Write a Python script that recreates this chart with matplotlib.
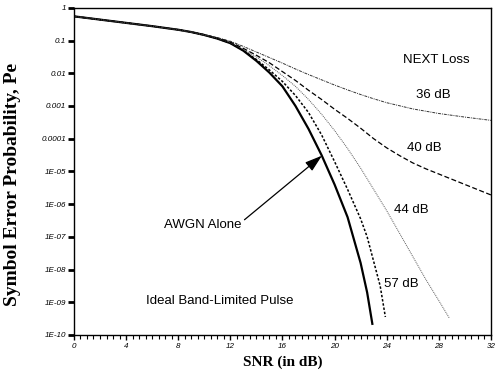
import numpy as np
import matplotlib
matplotlib.use("Agg")
import matplotlib.pyplot as plt
from matplotlib.ticker import MultipleLocator, LogLocator, NullFormatter

# SNR points (dB) and log10(Pe), per curve
awgn_snr = [0, 2, 4, 6, 8, 9, 10, 11, 12, 13, 14, 15, 16, 17, 18, 19, 20, 21, 22, 22.5, 22.9]
awgn_log = [-0.26, -0.36, -0.46, -0.56, -0.67, -0.74, -0.83, -0.94, -1.08, -1.31,
            -1.62, -1.98, -2.4, -3.0, -3.7, -4.5, -5.4, -6.4, -7.8, -8.7, -9.66]

n57_snr = [0, 2, 4, 6, 8, 9, 10, 11, 12, 13, 14, 15, 16, 17, 18, 19, 20, 21, 22, 22.5, 23,
           23.5, 23.9]
n57_log = [-0.26, -0.36, -0.46, -0.56, -0.67, -0.74, -0.83, -0.94, -1.08, -1.3,
           -1.58, -1.9, -2.25, -2.68, -3.2, -3.88, -4.7, -5.55, -6.45, -7.0, -7.75,
           -8.5, -9.45]

n44_snr = [0, 2, 4, 6, 8, 9, 10, 11, 12, 13, 14, 15, 16, 17, 18, 19, 20, 21, 22, 23, 24,
           25, 26, 27, 28, 28.8]
n44_log = [-0.26, -0.36, -0.46, -0.56, -0.67, -0.74, -0.83, -0.93, -1.06, -1.27,
           -1.5, -1.77, -2.07, -2.4, -2.8, -3.25, -3.75, -4.3, -4.9, -5.55, -6.2,
           -6.9, -7.6, -8.3, -8.95, -9.48]

n40_snr = [0, 2, 4, 6, 8, 9, 10, 11, 12, 13, 14, 15, 16, 17, 18, 19, 20, 21, 22, 23, 24,
           25, 26, 27, 28, 30, 32]
n40_log = [-0.26, -0.36, -0.46, -0.56, -0.67, -0.74, -0.82, -0.92, -1.04, -1.24,
           -1.45, -1.68, -1.95, -2.22, -2.52, -2.8, -3.1, -3.38, -3.68, -4.0, -4.28,
           -4.52, -4.74, -4.92, -5.08, -5.4, -5.72]

n36_snr = [0, 2, 4, 6, 8, 9, 10, 11, 12, 13, 14, 15, 16, 17, 18, 19, 20, 21, 22, 23, 24,
           26, 28, 30, 32]
n36_log = [-0.26, -0.36, -0.46, -0.56, -0.67, -0.74, -0.82, -0.91, -1.02, -1.18,
           -1.35, -1.52, -1.69, -1.87, -2.04, -2.2, -2.36, -2.51, -2.65, -2.78, -2.9,
           -3.09, -3.23, -3.34, -3.44]

y_ticks = [1, 0.1, 0.01, 0.001, 0.0001, 1e-5, 1e-6, 1e-7, 1e-8, 1e-9, 1e-10]
y_labels = ["1", "0.1", "0.01", "0.001", "0.0001", "1E-05", "1E-06", "1E-07",
            "1E-08", "1E-09", "1E-10"]
x_ticks = [0, 4, 8, 12, 16, 20, 24, 28, 32]

sans = ["Liberation Sans", "DejaVu Sans"]
serif = ["Liberation Serif", "DejaVu Serif"]

fig = plt.figure(figsize=(5.03, 3.73), dpi=100)
ax = fig.add_axes([0.147, 0.102, 0.829, 0.877])

ax.plot(awgn_snr, np.power(10.0, awgn_log), color="black", lw=1.6)
ax.plot(n57_snr, np.power(10.0, n57_log), color="black", lw=1.1, dashes=(1.6, 1.2))
ax.plot(n44_snr, np.power(10.0, n44_log), color="0.35", lw=0.7, dashes=(1, 1))
ax.plot(n40_snr, np.power(10.0, n40_log), color="black", lw=0.9, dashes=(4, 2))
ax.plot(n36_snr, np.power(10.0, n36_log), color="0.2", lw=0.7, dashes=(3, 1, 1, 1))

ax.set_yscale("log")
ax.set_xlim(0, 32)
ax.set_ylim(1e-10, 1)

ax.set_yticks(y_ticks)
ax.set_yticklabels(y_labels)
ax.yaxis.set_minor_locator(LogLocator(base=10, subs=np.arange(2, 10)))
ax.yaxis.set_minor_formatter(NullFormatter())
ax.set_xticks(x_ticks)
ax.xaxis.set_minor_locator(MultipleLocator(0.5))

ax.tick_params(axis="y", which="major", direction="out", length=4, width=2, pad=1.5)
ax.tick_params(axis="y", which="minor", direction="out", length=2.5, width=0.8)
ax.tick_params(axis="x", which="major", direction="out", length=3.5, width=1, pad=2)
ax.tick_params(axis="x", which="minor", direction="out", length=3, width=0.8)
for lab in ax.get_xticklabels() + ax.get_yticklabels():
    lab.set_fontfamily(sans)
    lab.set_fontstyle("italic")
    lab.set_fontsize(5.8)

for sp in ax.spines.values():
    sp.set_linewidth(1.0)

ax.set_xlabel("SNR (in dB)", family=serif, fontweight="bold", fontsize=11)
ax.xaxis.set_label_coords(0.5, -0.062)
ax.set_ylabel("Symbol Error Probability, Pe", family=serif, fontweight="bold", fontsize=14)
ax.yaxis.set_label_coords(-0.128, 0.46)

txt = dict(family=sans, fontsize=9.5, ha="center", va="center")
ax.text(27.8, 10 ** -1.59, "NEXT Loss", **txt)
ax.text(27.6, 10 ** -2.66, "36 dB", **txt)
ax.text(26.9, 10 ** -4.28, "40 dB", **txt)
ax.text(25.9, 10 ** -6.18, "44 dB", **txt)
ax.text(25.1, 10 ** -8.44, "57 dB", **txt)
ax.text(11.2, 10 ** -8.96, "Ideal Band-Limited Pulse", **txt)

ax.annotate("AWGN Alone", xy=(19.03, 10 ** -4.52), xytext=(9.9, 10 ** -6.64),
            family=sans, fontsize=9.5, ha="center", va="center",
            arrowprops=dict(arrowstyle="-|>,head_length=1.1,head_width=0.35",
                            color="black", lw=0.9, shrinkA=0, shrinkB=0,
                            relpos=(1.0, 0.75)))

fig.savefig("out.png", dpi=100)
